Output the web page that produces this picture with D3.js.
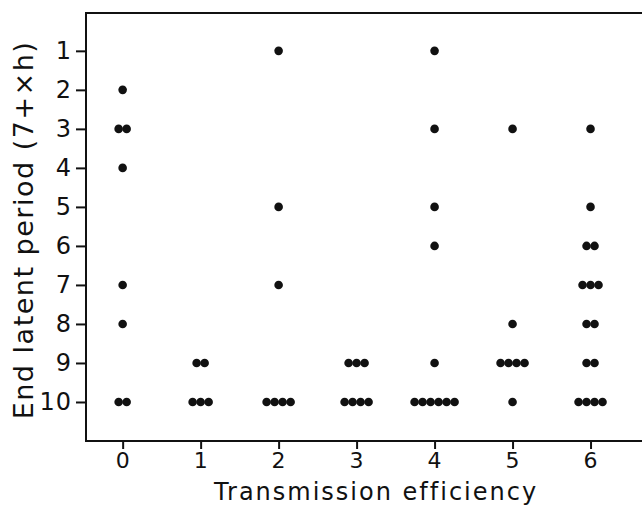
<!DOCTYPE html>
<html>
<head>
<meta charset="utf-8">
<script src="https://cdn.jsdelivr.net/npm/d3@7"></script>
<style>
  html, body { margin: 0; padding: 0; background: #fff; }
  svg text { font-family: 'DejaVu Sans', sans-serif; fill: #111; }
</style>
</head>
<body>
<div id="chart"></div>
<script>
(function () {
    'use strict';

    // ── 数据 ──────────────────────────────────────────────────────────────
    const xTicks = [0, 1, 2, 3, 4, 5, 6];
    const yTicks = [1, 2, 3, 4, 5, 6, 7, 8, 9, 10];

    // each row: transmission efficiency, end latent period, number of dots
    const efficiency = [0, 0, 0, 0, 0, 0,  1, 1,  2, 2, 2, 2,  3, 3,  4, 4, 4, 4, 4, 4,  5, 5, 5, 5,  6, 6, 6, 6, 6, 6, 6];
    const period     = [2, 3, 4, 7, 8, 10, 9, 10, 1, 5, 7, 10, 9, 10, 1, 3, 5, 6, 9, 10, 3, 8, 9, 10, 3, 5, 6, 7, 8, 9, 10];
    const count      = [1, 2, 1, 1, 1, 2,  2, 3,  1, 1, 1, 4,  3, 4,  1, 1, 1, 1, 1, 6,  1, 1, 4, 1,  1, 1, 2, 3, 2, 2, 4];

    const xTitle = 'Transmission efficiency';
    const yTitle = 'End latent period (7+×h)';

    // ── 画布 ──────────────────────────────────────────────────────────────
    const width = 643, height = 507;
    const frame = { left: 86, top: 13, right: 642, bottom: 441 };

    const svg = d3.select('#chart').append('svg')
        .attr('width', width)
        .attr('height', height);

    const x = d3.scaleLinear().domain([-0.47, 6.66]).range([frame.left, frame.right]);
    const y = d3.scaleLinear().domain([0.03, 11]).range([frame.top, frame.bottom]);

    // ── 坐标轴 ─────────────────────────────────────────────────────────────
    const yAxis = svg.append('g')
        .attr('transform', `translate(${frame.left},0)`)
        .call(d3.axisLeft(y).tickValues(yTicks).tickSize(10).tickPadding(4));
    const xAxis = svg.append('g')
        .attr('transform', `translate(0,${frame.bottom})`)
        .call(d3.axisBottom(x).tickValues(xTicks).tickSize(8).tickPadding(3));

    [xAxis, yAxis].forEach(a => {
        a.select('.domain').remove();
        a.selectAll('line').attr('stroke', '#111').attr('stroke-width', 2);
        a.selectAll('text')
            .style('font-family', "'DejaVu Sans', sans-serif")
            .style('letter-spacing', '1px')
            .attr('fill', '#111');
    });
    yAxis.selectAll('text').style('font-size', '24px');
    xAxis.selectAll('text').style('font-size', '22px');

    // frame: left, top, bottom
    svg.append('path')
        .attr('d', `M${frame.right},${frame.top}H${frame.left}V${frame.bottom}H${frame.right}`)
        .attr('fill', 'none')
        .attr('stroke', '#111')
        .attr('stroke-width', 2);

    // ── 点 ────────────────────────────────────────────────────────────────
    const dots = [];
    efficiency.forEach((e, i) => {
        const n = count[i];
        for (let k = 0; k < n; k++) {
            dots.push({ e, p: period[i], off: (k - (n - 1) / 2) * 8 });
        }
    });

    svg.append('g').selectAll('circle')
        .data(dots)
        .enter()
        .append('circle')
        .attr('cx', d => x(d.e) + d.off)
        .attr('cy', d => y(d.p))
        .attr('r', 4.3)
        .attr('fill', '#111');

    // ── 标题 ──────────────────────────────────────────────────────────────
    svg.append('text')
        .attr('x', 376)
        .attr('y', 500)
        .attr('text-anchor', 'middle')
        .style('font-size', '24px')
        .style('letter-spacing', '2px')
        .text(xTitle);

    svg.append('text')
        .attr('transform', 'translate(33,230) rotate(-90)')
        .attr('text-anchor', 'middle')
        .style('font-size', '27px')
        .style('letter-spacing', '1.5px')
        .text(yTitle);
})();
</script>
</body>
</html>
